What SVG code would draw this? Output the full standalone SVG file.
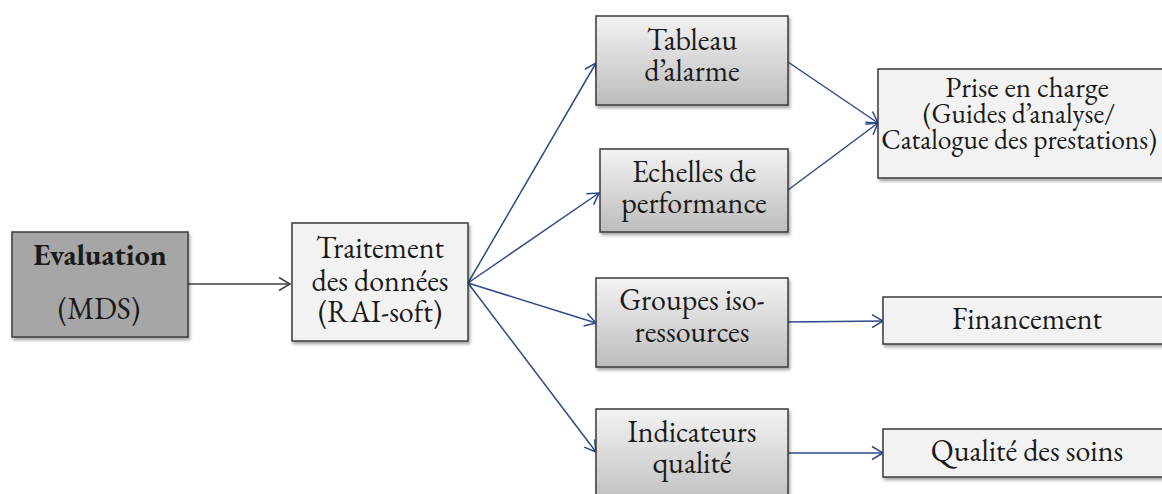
<svg xmlns="http://www.w3.org/2000/svg" width="1162" height="494" viewBox="0 0 1162 494">
  <style>
    .box { stroke: #3a3a3a; stroke-width: 1.5; filter: url(#shadow); }
    .light { fill: #f2f2f2; }
    .dark { fill: #a6a6a6; }
    .grad { fill: url(#g); }
    text { font-family: "EB Garamond", Garamond, "Liberation Serif", serif; font-size: 30px; fill: #1a1a1a; text-anchor: middle; }
    .p1 { font-size: 29px; }
    .small { font-size: 27.5px; }
    .bold { font-weight: bold; }
    .navy { stroke: #2e4a8a; stroke-width: 1.5; fill: none; marker-end: url(#an); }
    .gray { stroke: #404040; stroke-width: 1.5; fill: none; marker-end: url(#ag); }
  </style>
  <defs>
    <linearGradient id="g" x1="0" y1="0" x2="0" y2="1">
      <stop offset="0" stop-color="#f3f3f3"/>
      <stop offset="1" stop-color="#bcbcbc"/>
    </linearGradient>
    <filter id="shadow" x="-10%" y="-10%" width="130%" height="140%">
      <feDropShadow dx="1.5" dy="2.5" stdDeviation="1.5" flood-color="#000" flood-opacity="0.35"/>
    </filter>
    <marker id="an" markerUnits="userSpaceOnUse" markerWidth="16" markerHeight="16" viewBox="0 0 16 16" refX="13" refY="8" orient="auto">
      <path d="M2,1.5 L13,8 L2,14.5" fill="none" stroke="#2e4a8a" stroke-width="1.5"/>
    </marker>
    <marker id="ag" markerUnits="userSpaceOnUse" markerWidth="16" markerHeight="16" viewBox="0 0 16 16" refX="13" refY="8" orient="auto">
      <path d="M2,1.5 L13,8 L2,14.5" fill="none" stroke="#404040" stroke-width="1.5"/>
    </marker>
  </defs>

  <g id="connectors">
    <line class="gray" x1="188" y1="284" x2="290" y2="284"/>
    <line class="navy" x1="468" y1="283" x2="596" y2="63"/>
    <line class="navy" x1="468" y1="283" x2="599" y2="193"/>
    <line class="navy" x1="468" y1="283" x2="596" y2="323"/>
    <line class="navy" x1="468" y1="283" x2="596" y2="452"/>
    <line class="navy" x1="788" y1="62" x2="878" y2="123"/>
    <line class="navy" x1="788" y1="190" x2="878" y2="123"/>
    <line class="navy" x1="788" y1="322" x2="883" y2="321"/>
    <line class="navy" x1="788" y1="453" x2="883" y2="453"/>
  </g>

  <g id="evaluation">
    <rect class="box dark" x="12" y="232" width="176" height="105"/>
    <text class="bold" x="100" y="265">Evaluation</text>
    <text x="99" y="319">(MDS)</text>
  </g>

  <g id="traitement">
    <rect class="box light" x="292" y="223" width="176" height="118"/>
    <text x="380" y="258">Traitement</text>
    <text x="380" y="291">des données</text>
    <text x="380" y="322">(RAI-soft)</text>
  </g>

  <g id="tableau">
    <rect class="box grad" x="596" y="16" width="192" height="89"/>
    <text x="692" y="50">Tableau</text>
    <text x="692" y="81">d’alarme</text>
  </g>

  <g id="echelles">
    <rect class="box grad" x="600" y="149" width="188" height="83"/>
    <text x="694" y="182">Echelles de</text>
    <text x="694" y="213">performance</text>
  </g>

  <g id="groupes">
    <rect class="box grad" x="596" y="278" width="192" height="89"/>
    <text x="692" y="310">Groupes iso-</text>
    <text x="692" y="342">ressources</text>
  </g>

  <g id="indicateurs">
    <rect class="box grad" x="596" y="409" width="192" height="100"/>
    <text x="692" y="442">Indicateurs</text>
    <text x="692" y="473">qualité</text>
  </g>

  <g id="prise">
    <rect class="box light" x="878" y="69" width="300" height="109"/>
    <text class="p1" x="1027" y="97">Prise en charge</text>
    <text class="small" x="1019" y="123">(Guides d’analyse/</text>
    <text class="small" x="1019" y="149">Catalogue des prestations)</text>
  </g>

  <g id="financement">
    <rect class="box light" x="883" y="297" width="300" height="47"/>
    <text x="1027" y="329">Financement</text>
  </g>

  <g id="qualite">
    <rect class="box light" x="883" y="429" width="300" height="48"/>
    <text x="1027" y="461">Qualité des soins</text>
  </g>
</svg>
